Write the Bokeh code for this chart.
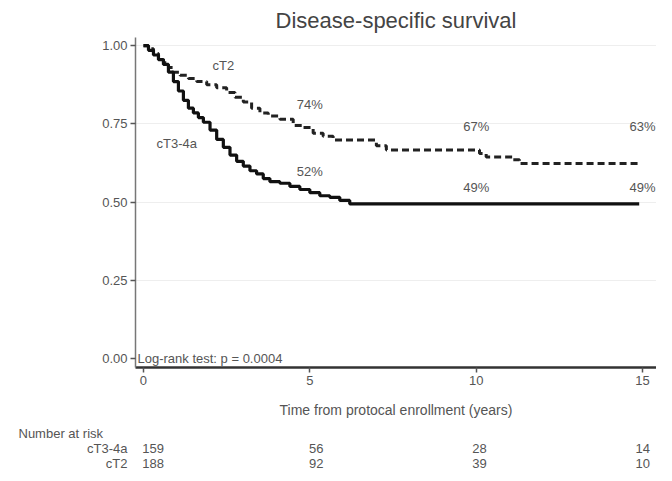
from bokeh.plotting import figure
from bokeh.models import Range1d, FixedTicker, PrintfTickFormatter, FactorRange
from bokeh.layouts import column
from bokeh.embed import file_html
from bokeh.resources import INLINE
from bokeh.core.properties import value

FONT = "Liberation Sans"
TXT = "#555555"

# Kaplan-Meier estimates (time in years, survival)
t_ct2 = [0, 0.15, 0.3, 0.45, 0.6, 0.75, 0.9, 1.1, 1.35, 1.6, 1.9, 2.2, 2.5, 2.75,
         3.0, 3.25, 3.5, 3.75, 4.1, 4.5, 4.8, 5.1, 5.4, 5.7, 7.0, 7.3, 10.1, 10.3,
         11.1, 11.3, 14.9]
s_ct2 = [1.0, 0.99, 0.975, 0.96, 0.945, 0.93, 0.915, 0.905, 0.895, 0.885, 0.875,
         0.865, 0.85, 0.835, 0.82, 0.80, 0.785, 0.775, 0.765, 0.745, 0.738, 0.72,
         0.71, 0.698, 0.68, 0.666, 0.655, 0.644, 0.635, 0.623, 0.623]

t_ct34 = [0, 0.15, 0.3, 0.45, 0.6, 0.75, 0.9, 1.05, 1.2, 1.35, 1.5, 1.65, 1.8, 2.0,
          2.2, 2.4, 2.6, 2.8, 3.0, 3.2, 3.4, 3.6, 3.8, 4.1, 4.4, 4.7, 5.0, 5.3,
          5.6, 5.9, 6.2, 14.9]
s_ct34 = [1.0, 0.985, 0.97, 0.955, 0.94, 0.915, 0.885, 0.855, 0.825, 0.80, 0.785,
          0.77, 0.755, 0.73, 0.70, 0.675, 0.65, 0.63, 0.615, 0.60, 0.59, 0.575,
          0.565, 0.56, 0.55, 0.54, 0.53, 0.52, 0.515, 0.505, 0.494, 0.494]

pct_times = [5, 10, 15]
pct_ct2 = ["74%", "67%", "63%"]
pct_ct2_y = [0.813, 0.740, 0.740]
pct_ct34 = ["52%", "49%", "49%"]
pct_ct34_y = [0.598, 0.545, 0.545]

risk_times = [0, 5, 10, 15]
risk_ct34 = ["159", "56", "28", "14"]
risk_ct2 = ["188", "92", "39", "10"]
groups = ["cT3-4a", "cT2"]

x_ticks = [0, 5, 10, 15]
y_ticks = [0, 0.25, 0.5, 0.75, 1.0]

p = figure(width=656, height=423, x_range=Range1d(-0.24, 15.42),
           y_range=Range1d(-0.029, 1.026), output_backend="svg",
           toolbar_location=None, min_border_left=135, min_border_right=0,
           min_border_top=30, min_border_bottom=56,
           title="Disease-specific survival")
p.outline_line_color = None
p.background_fill_color = "white"
p.title.align = "center"
p.title.text_font = FONT
p.title.text_font_size = "22px"
p.title.text_font_style = "normal"
p.title.text_color = "#444444"

p.xgrid.grid_line_color = None
p.ygrid.ticker = FixedTicker(ticks=[0.25, 0.5, 0.75, 1.0])
p.ygrid.grid_line_color = "#eeeeee"
p.ygrid.grid_line_width = 1

p.xaxis.ticker = FixedTicker(ticks=x_ticks)
p.yaxis.ticker = FixedTicker(ticks=y_ticks)
p.yaxis.formatter = PrintfTickFormatter(format="%.2f")
p.xaxis.minor_tick_line_color = None
p.yaxis.minor_tick_line_color = None
for ax in (p.xaxis, p.yaxis):
    ax.major_label_text_font = FONT
    ax.major_label_text_font_size = "13px"
    ax.major_label_text_color = TXT
    ax.major_tick_in = 0
    ax.major_tick_out = 5
p.xaxis.axis_line_color = "#333333"
p.xaxis.axis_line_width = 2.5
p.xaxis.major_tick_line_color = "#555555"
p.xaxis.major_tick_line_width = 1.5
p.yaxis.axis_line_color = "#777777"
p.yaxis.axis_line_width = 1.5
p.yaxis.major_tick_line_color = "#555555"
p.yaxis.major_tick_line_width = 1.5
p.xaxis.major_label_standoff = 3
p.yaxis.major_label_standoff = 3
p.xaxis.axis_label = "Time from protocal enrollment (years)"
p.xaxis.axis_label_text_font = FONT
p.xaxis.axis_label_text_font_size = "14px"
p.xaxis.axis_label_text_font_style = "normal"
p.xaxis.axis_label_text_color = TXT
p.xaxis.axis_label_standoff = 14

p.step(t_ct2, s_ct2, mode="after", line_width=3, line_color="#222222",
       line_dash="7 4")
p.step(t_ct34, s_ct34, mode="after", line_width=3.2, line_color="#111111")

txt_kw = dict(text_font=value(FONT), text_font_size="13px", text_color=TXT,
              text_align="center", text_baseline="middle")
p.text(x=[2.4, 1.0], y=[0.936, 0.688], text=["cT2", "cT3-4a"], **txt_kw)
p.text(x=pct_times, y=pct_ct2_y, text=pct_ct2, **txt_kw)
p.text(x=pct_times, y=pct_ct34_y, text=pct_ct34, **txt_kw)
p.text(x=[-0.18], y=[0.0], text=["Log-rank test: p = 0.0004"],
       text_font=value(FONT), text_font_size="13px", text_color=TXT,
       text_align="left", text_baseline="middle")

# Number-at-risk table: its own small figure on the same time scale
# (frame starts 10 px further left so the first column is not clipped)
r = figure(width=656, height=47, x_range=Range1d(-0.54, 15.42),
           y_range=FactorRange(factors=list(reversed(groups))),
           output_backend="svg", toolbar_location=None,
           min_border_left=125, min_border_right=0, min_border_top=17,
           min_border_bottom=0, x_axis_location=None,
           title="Number at risk")
r.outline_line_color = None
r.grid.visible = False
r.title.align = "left"
r.title.offset = -117
r.title.standoff = 0
r.title.text_font = FONT
r.title.text_font_size = "13px"
r.title.text_font_style = "normal"
r.title.text_color = TXT
r.yaxis.axis_line_color = None
r.yaxis.major_tick_line_color = None
r.yaxis.minor_tick_line_color = None
r.yaxis.major_label_standoff = 2
r.yaxis.major_label_text_font = FONT
r.yaxis.major_label_text_font_size = "13px"
r.yaxis.major_label_text_color = TXT

rk = dict(text_font=value(FONT), text_font_size="13px", text_color=TXT,
          text_align="center", text_baseline="middle")
r.text(x=risk_times, y=[groups[0]] * len(risk_times), text=risk_ct34, **rk)
r.text(x=risk_times, y=[groups[1]] * len(risk_times), text=risk_ct2, **rk)

layout = column(p, r, spacing=0)
open("out.html", "w").write(file_html(layout, INLINE))
